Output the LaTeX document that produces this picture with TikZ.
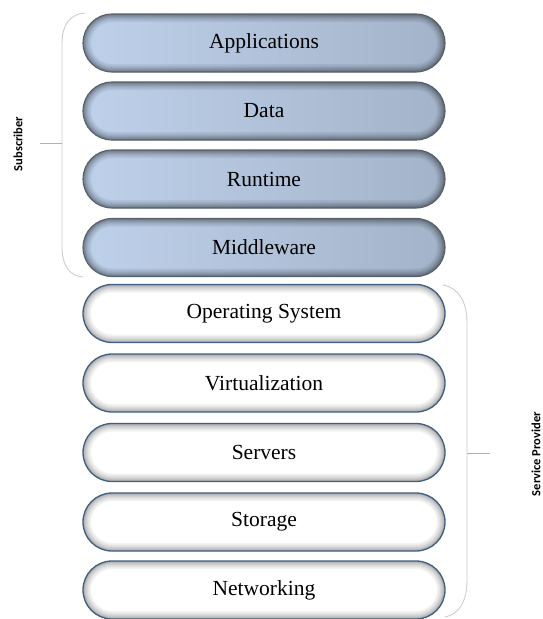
\documentclass[tikz,border=0pt]{standalone}
\usepackage{fontspec}
\setmainfont{Liberation Serif}
\newfontfamily\labfont{Carlito}
\definecolor{upL}{HTML}{BED1EA}
\definecolor{upR}{HTML}{A3B3C9}
\definecolor{upBorder}{HTML}{56606B}
\definecolor{loBorder}{HTML}{3F5E80}
\definecolor{brk}{HTML}{CACDD1}
\definecolor{tick}{HTML}{A9B1BA}
\newcommand\shadowring[2]{%
  \draw[rounded corners=29pt, line width=#2, #1, opacity=.06]
    (path picture bounding box.south west) rectangle (path picture bounding box.north east);}
\tikzset{
  layer/.style={minimum width=362pt, minimum height=58pt, rounded corners=29pt,
    inner sep=0pt, font=\rmfamily\fontsize{21.5}{24}\selectfont, text=black},
  innershadow/.style={path picture={
      \shadowring{#1}{16pt}\shadowring{#1}{13pt}\shadowring{#1}{10pt}
      \shadowring{#1}{8pt}\shadowring{#1}{6pt}\shadowring{#1}{4.5pt}
      \shadowring{#1}{3pt}\shadowring{#1}{2pt}
    }},
  upperlayer/.style={layer, draw=upBorder, line width=1.1pt, left color=upL, right color=upR,
    innershadow=black},
  lowerlayer/.style={layer, draw=loBorder, line width=1.3pt, fill=white, innershadow=black!80},
  bracketline/.style={draw=brk, line width=0.9pt},
  tickline/.style={draw=tick, line width=0.9pt},
  sidelabel/.style={rotate=90, font=\labfont\bfseries\fontsize{12.5}{14}\selectfont, text=black}
}
\begin{document}
\begin{tikzpicture}[x=1pt,y=-1pt]
\useasboundingbox (0,0) rectangle (542,619);
% subscriber layers
\node[upperlayer] (app) at (264,43) {Applications};
\node[upperlayer] (data) at (264,111) {Data};
\node[upperlayer] (run) at (264,179) {Runtime};
\node[upperlayer] (mid) at (264,247.5) {Middleware};
% provider layers
\node[lowerlayer] (os) at (264,313.5) {Operating System};
\node[lowerlayer] (virt) at (264,383) {Virtualization};
\node[lowerlayer] (serv) at (264,452.5) {Servers};
\node[lowerlayer] (stor) at (264,522) {Storage};
\node[lowerlayer] (net) at (264,590) {Networking};
% subscriber bracket
\coordinate (sbT) at (85,13);
\coordinate (sbB) at (83,277);
\coordinate (sbM) at (62,143);
\coordinate (sbTick) at (40,143);
\path[bracketline] (sbT) .. controls (70,14) and (62,25) .. (62,43) -- (62,247)
  .. controls (62,266) and (70,276) .. (sbB);
\path[tickline] (sbTick) -- (sbM);
\node[sidelabel] (sublab) at (18,144) {Subscriber};
% service provider bracket
\coordinate (spT) at (443,285);
\coordinate (spB) at (445,617);
\coordinate (spM) at (467,453);
\coordinate (spTick) at (490,453);
\path[bracketline] (spT) .. controls (459,288) and (467,302) .. (467,323) -- (467,580)
  .. controls (467,602) and (459,614) .. (spB);
\path[tickline] (spM) -- (spTick);
\node[sidelabel] (splab) at (536,454) {Service Provider};
\end{tikzpicture}
\end{document}
